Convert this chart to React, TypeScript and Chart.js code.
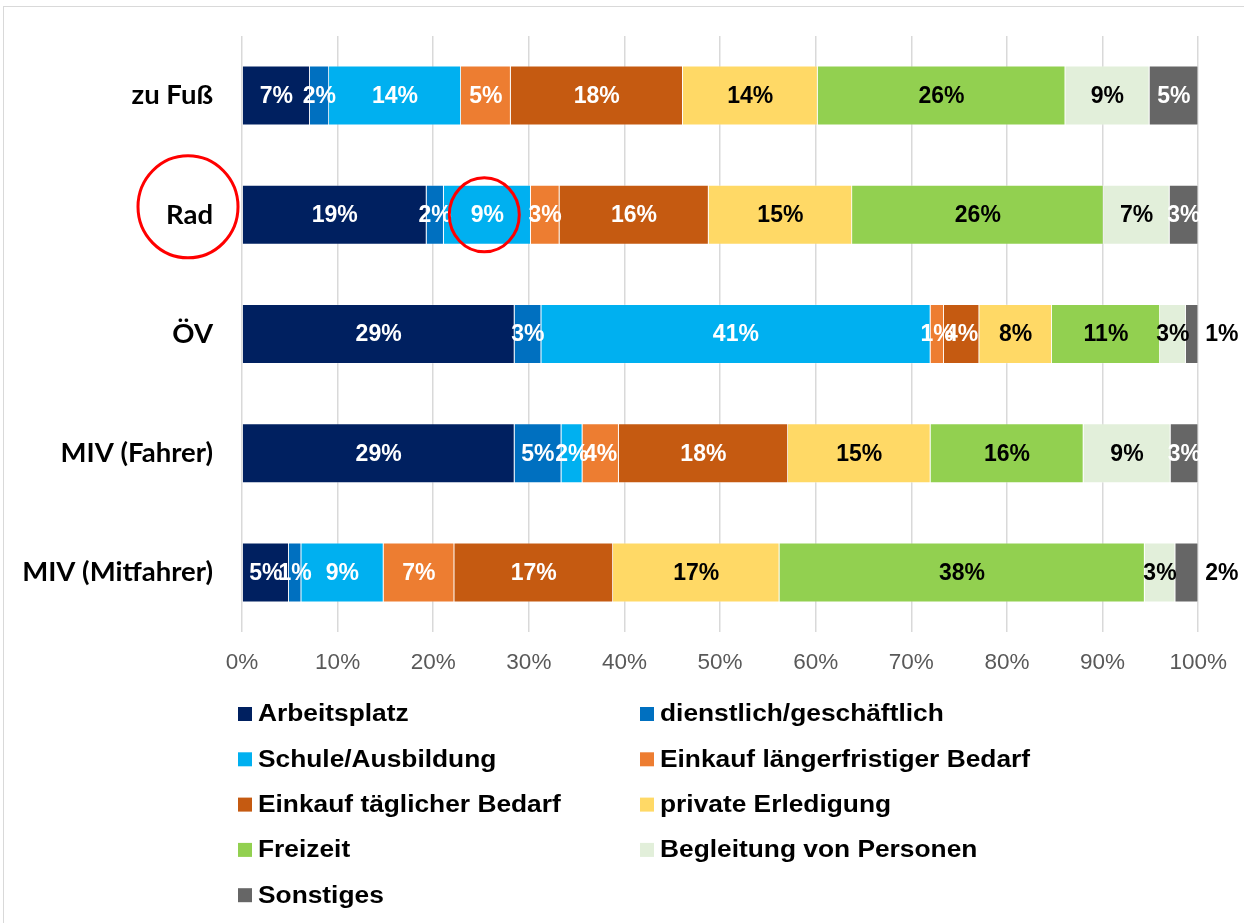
import React, { useEffect, useRef } from "react";
import { Chart, registerables } from "chart.js";

Chart.register(...registerables);

const categories = ["zu Fuß", "Rad", "ÖV", "MIV (Fahrer)", "MIV (Mitfahrer)"];
const seriesNames = [
  "Arbeitsplatz",
  "dienstlich/geschäftlich",
  "Schule/Ausbildung",
  "Einkauf längerfristiger Bedarf",
  "Einkauf täglicher Bedarf",
  "private Erledigung",
  "Freizeit",
  "Begleitung von Personen",
  "Sonstiges",
];
const arbeitsplatz = [7.1, 19.3, 28.5, 28.5, 4.9];
const dienstlich = [2.0, 1.8, 2.8, 4.9, 1.3];
const schule = [13.8, 9.1, 40.7, 2.2, 8.6];
const einkaufLang = [5.2, 3.0, 1.4, 3.8, 7.4];
const einkaufTaeglich = [18.0, 15.6, 3.7, 17.7, 16.6];
const privat = [14.1, 15.0, 7.6, 14.9, 17.4];
const freizeit = [25.9, 26.3, 11.3, 16.0, 38.2];
const begleitung = [8.8, 6.9, 2.7, 9.1, 3.2];
const sonstiges = [5.1, 3.0, 1.3, 2.9, 2.4];
const xTicks = [0, 10, 20, 30, 40, 50, 60, 70, 80, 90, 100];

const seriesValues = [
  arbeitsplatz,
  dienstlich,
  schule,
  einkaufLang,
  einkaufTaeglich,
  privat,
  freizeit,
  begleitung,
  sonstiges,
];
const colors = [
  "#002060",
  "#0070C0",
  "#00B0F0",
  "#ED7D31",
  "#C55A11",
  "#FFD966",
  "#92D050",
  "#E2EFDA",
  "#666666",
];
const labelColors = ["#fff", "#fff", "#fff", "#fff", "#fff", "#000", "#000", "#000", "#fff"];

const labelPlugin = {
  id: "segLabels",
  afterDatasetsDraw(chart: any) {
    const ctx = chart.ctx;
    ctx.save();
    ctx.font = "bold 23px 'Liberation Sans', Arial, sans-serif";
    ctx.textBaseline = "middle";
    const last = chart.data.datasets.length - 1;
    chart.data.datasets.forEach((ds: any, di: number) => {
      const meta = chart.getDatasetMeta(di);
      meta.data.forEach((el: any, i: number) => {
        const v = ds.data[i];
        const txt = Math.round(v) + "%";
        const w = Math.abs(el.x - el.base);
        if (di === last && w < 26) {
          ctx.fillStyle = "#000";
          ctx.textAlign = "left";
          ctx.fillText(txt, el.x + 7, el.y + 1);
        } else {
          ctx.fillStyle = labelColors[di];
          ctx.textAlign = "center";
          ctx.fillText(txt, (el.x + el.base) / 2, el.y + 1);
        }
      });
    });
    ctx.restore();
  },
};

const legendPlugin = {
  id: "customLegend",
  afterDraw(chart: any) {
    const ctx = chart.ctx;
    ctx.save();
    const colX = [238, 640];
    const y0 = 714;
    const step = 45.3;
    chart.data.datasets.forEach((ds: any, i: number) => {
      const col = i % 2;
      const row = Math.floor(i / 2);
      const x = colX[col];
      const y = y0 + row * step;
      ctx.fillStyle = ds.backgroundColor;
      ctx.fillRect(x, y - 7, 14, 14);
      ctx.save();
      ctx.translate(x + 20, y + 1);
      ctx.scale(1.12, 1);
      ctx.fillStyle = "#000";
      ctx.font = "bold 23.5px 'Liberation Sans', Arial, sans-serif";
      ctx.textAlign = "left";
      ctx.textBaseline = "middle";
      ctx.fillText(ds.label, 0, 0);
      ctx.restore();
    });
    ctx.restore();
  },
};

const circlePlugin = {
  id: "redCircles",
  afterDraw(chart: any) {
    const ctx = chart.ctx;
    const yScale = chart.scales.y;
    const yRad = yScale.getPixelForValue(1);
    const el = chart.getDatasetMeta(2).data[1];
    ctx.save();
    ctx.strokeStyle = "#FF0000";
    ctx.lineWidth = 3;
    ctx.beginPath();
    ctx.ellipse(188, yRad - 8, 50, 51, 0, 0, Math.PI * 2);
    ctx.stroke();
    ctx.beginPath();
    ctx.ellipse((el.x + el.base) / 2 - 3, yRad, 35, 37, 0, 0, Math.PI * 2);
    ctx.stroke();
    ctx.restore();
  },
};

export default function App() {
  const ref = useRef<HTMLCanvasElement>(null);
  useEffect(() => {
    if (!ref.current) return;
    const chart = new Chart(ref.current, {
      type: "bar",
      data: {
        labels: categories,
        datasets: seriesNames.map((name, i) => ({
          label: name,
          data: seriesValues[i],
          backgroundColor: colors[i],
          borderColor: "rgba(255,255,255,0.35)",
          borderWidth: 0.8,
          barPercentage: 0.5,
          categoryPercentage: 1,
        })),
      },
      options: {
        indexAxis: "y",
        responsive: false,
        animation: false,
        layout: { padding: { left: 10, top: 36, right: 45, bottom: 231 } },
        plugins: {
          legend: { display: false },
          tooltip: { enabled: false },
        },
        scales: {
          x: {
            stacked: true,
            min: 0,
            max: 100,
            afterBuildTicks: (s: any) => {
              s.ticks = xTicks.map((v) => ({ value: v }));
            },
            afterFit: (s: any) => {
              s.height = 60;
            },
            grid: { color: "#d9d9d9", lineWidth: 1.5, drawTicks: false },
            border: { display: false },
            ticks: {
              padding: 17,
              color: "#595959",
              font: { family: "'Liberation Sans', Arial, sans-serif", size: 22.5 },
              callback: (v: any) => v + "%",
              maxRotation: 0,
            },
          },
          y: {
            stacked: true,
            afterFit: (s: any) => {
              s.width = 232;
              s.paddingTop = 0;
              s.paddingBottom = 0;
            },
            grid: { display: false, drawTicks: false },
            border: { display: false },
            ticks: {
              padding: 29,
              color: "#000",
              font: { family: "Lato, sans-serif", size: 27.5, weight: "bold" },
            },
          },
        },
      },
      plugins: [labelPlugin, legendPlugin, circlePlugin],
    } as any);
    return () => chart.destroy();
  }, []);

  return (
    <div
      style={{
        position: "absolute",
        left: 0,
        top: 0,
        width: 1244,
        height: 923,
        overflow: "hidden",
        background: "#fff",
      }}
    >
      <div
        style={{
          position: "absolute",
          left: 3,
          top: 6,
          width: 1400,
          height: 1100,
          border: "1px solid #d9d9d9",
        }}
      />
      <canvas
        ref={ref}
        width={1244}
        height={923}
        style={{ position: "absolute", left: 0, top: 0, width: 1244, height: 923 }}
      />
    </div>
  );
}
